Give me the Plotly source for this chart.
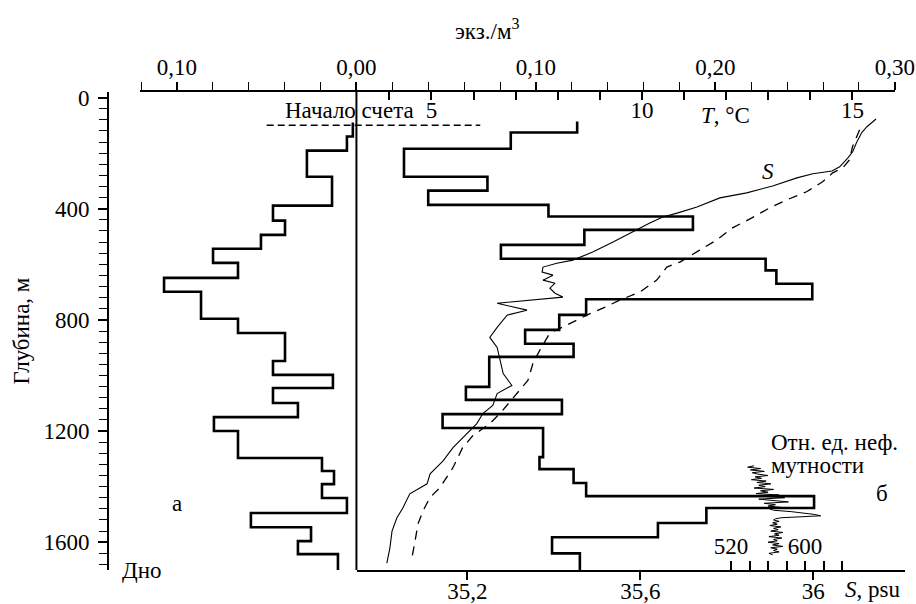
import plotly.graph_objects as go

# ---------------- DATA ----------------
# Panel a (left): abundance, экз./м3, plotted to the left of 0
a_edges = [90, 140, 191, 285, 389, 443, 494, 544, 595, 649, 699, 796, 847, 948, 998,
           1045, 1099, 1150, 1200, 1297, 1344, 1391, 1441, 1495, 1546, 1596, 1643, 1700]
a_vals = [0.002, 0.0053, 0.0276, 0.0136, 0.0465, 0.0398, 0.0532, 0.0799, 0.066, 0.1072,
          0.0866, 0.066, 0.0398, 0.0465, 0.0131, 0.0465, 0.0326, 0.0794, 0.066, 0.0192,
          0.0125, 0.0192, 0.0053, 0.0588, 0.0253, 0.0326, 0.0103]

# Panel б (right): abundance, экз./м3
b_edges = [86, 126, 184, 285, 335, 386, 428, 476, 530, 580, 622, 670, 726, 782, 836, 886,
           933, 1041, 1088, 1139, 1189, 1294, 1337, 1387, 1434, 1477, 1531, 1582, 1640, 1700]
b_vals = [0.123, 0.086, 0.0265, 0.073, 0.040, 0.107, 0.1875, 0.127, 0.0805, 0.228,
          0.234, 0.254, 0.128, 0.113, 0.094, 0.121, 0.074, 0.061, 0.1145, 0.048,
          0.104, 0.102, 0.121, 0.128, 0.255, 0.195, 0.168, 0.109, 0.1245]

# Salinity profile S, psu
s_depth = [77, 105, 126, 162, 195, 217, 249, 264, 274, 289, 318, 343, 361, 394, 415, 430,
           451, 484, 520, 556, 574, 585, 596, 610, 628, 639, 657, 668, 686, 704, 718, 722,
           740, 765, 783, 827, 863, 899, 946, 993, 1036, 1065, 1108, 1137, 1173, 1209, 1260,
           1307, 1354, 1390, 1426, 1477, 1513, 1560, 1621, 1675]
s_val = [36.145, 36.124, 36.112, 36.100, 36.091, 36.080, 36.061, 36.043, 35.999, 35.962,
         35.906, 35.846, 35.784, 35.731, 35.687, 35.652, 35.622, 35.583, 35.537, 35.490,
         35.461, 35.444, 35.407, 35.375, 35.373, 35.398, 35.375, 35.403, 35.391, 35.403,
         35.421, 35.391, 35.269, 35.338, 35.292, 35.269, 35.252, 35.269, 35.276, 35.283,
         35.303, 35.269, 35.259, 35.236, 35.222, 35.199, 35.167, 35.144, 35.114, 35.107,
         35.067, 35.051, 35.037, 35.026, 35.021, 35.014]

# Temperature profile T, °C
t_depth = [116, 177, 224, 253, 271, 303, 339, 368, 397, 433, 469, 513, 549, 592, 610, 657,
           700, 729, 758, 783, 819, 848, 910, 957, 1018, 1065, 1126, 1173, 1217, 1260, 1332,
           1404, 1440, 1487, 1534, 1596, 1661]
t_val = [15.17, 15.00, 14.93, 14.77, 14.53, 14.29, 13.91, 13.44, 13.03, 12.61, 12.15, 11.77,
         11.37, 10.90, 10.59, 10.35, 9.95, 9.47, 9.07, 8.69, 8.21, 7.81, 7.57, 7.41, 7.29,
         7.03, 6.69, 6.39, 5.98, 5.74, 5.51, 5.20, 4.96, 4.80, 4.68, 4.61, 4.53]

# Turbidity, rel. units of nephelometric turbidity
turb_depth = [1325, 1330, 1335, 1340, 1345, 1350, 1355, 1360, 1365, 1370, 1375, 1380, 1385,
              1390, 1395, 1400, 1405, 1410, 1415, 1420, 1425, 1430, 1435, 1440, 1445, 1450,
              1455, 1460, 1465, 1470, 1475, 1480, 1485, 1490, 1495, 1500, 1505, 1508, 1512,
              1516, 1520, 1525, 1530, 1535, 1540, 1545, 1550, 1555, 1560, 1565, 1570, 1575,
              1580, 1585, 1590, 1595, 1600, 1605, 1610, 1615, 1620, 1625, 1630, 1635, 1640, 1645]
turb_val = [545, 538, 552, 541, 556, 543, 549, 560, 546, 553, 542, 558, 548, 563, 550, 557,
            545, 566, 552, 560, 547, 572, 555, 578, 550, 565, 582, 556, 568, 560, 575, 562,
            566, 585, 600, 610, 617, 590, 574, 568, 566, 572, 565, 570, 562, 574, 566, 571,
            563, 576, 567, 572, 561, 575, 566, 570, 560, 572, 565, 576, 563, 570, 566, 572,
            561, 565]

start_depth = 100          # "Начало счета"
start_span = [-0.05, 0.069]

top_ticks = [-0.1, 0.0, 0.1, 0.2, 0.3]
top_ticktext = ["0,10", "0,00", "0,10", "0,20", "0,30"]
t_ticks = list(range(4, 17))
s_ticks = [35.2, 35.6, 36.0]
s_ticktext = ["35,2", "35,6", "36"]
turb_ticks = [520, 540, 560, 580, 600, 620, 640]
depth_ticks = [0, 400, 800, 1200, 1600]

# ---------------- GEOMETRY ----------------
L, R, T, B = 108, 905, 92.45, 569.75
W, H = 916, 604


def px(xp):
    return (xp - L) / (R - L)


def py(yp):
    return (B - yp) / (B - T)


def steps(edges, vals, sign=1):
    xs, ys = [], []
    for i, v in enumerate(vals):
        xs += [sign * v, sign * v]
        ys += [edges[i], edges[i + 1]]
    return xs, ys


FONT = "'Liberation Serif', 'Times New Roman', 'DejaVu Serif', serif"
FS = 23
BLACK = "black"

fig = go.Figure()

ax, ay = steps(a_edges, a_vals, -1)
bx, by = steps(b_edges, b_vals, 1)
fig.add_trace(go.Scatter(x=ax, y=ay, mode="lines", xaxis="x", yaxis="y",
                         line=dict(color=BLACK, width=2.6)))
fig.add_trace(go.Scatter(x=bx, y=by, mode="lines", xaxis="x", yaxis="y",
                         line=dict(color=BLACK, width=2.6)))
fig.add_trace(go.Scatter(x=[0, 0], y=[-20, 1700], mode="lines", xaxis="x", yaxis="y",
                         line=dict(color=BLACK, width=2)))
fig.add_trace(go.Scatter(x=start_span, y=[start_depth, start_depth], mode="lines",
                         xaxis="x", yaxis="y",
                         line=dict(color=BLACK, width=1.5, dash="7px,4px")))
fig.add_trace(go.Scatter(x=t_val, y=t_depth, mode="lines", xaxis="x2", yaxis="y",
                         line=dict(color=BLACK, width=1.3, dash="9px,7px")))
fig.add_trace(go.Scatter(x=s_val, y=s_depth, mode="lines", xaxis="x3", yaxis="y",
                         line=dict(color=BLACK, width=1.1)))
fig.add_trace(go.Scatter(x=turb_val, y=turb_depth, mode="lines", xaxis="x4", yaxis="y",
                         line=dict(color=BLACK, width=1.0)))

common = dict(showgrid=False, zeroline=False, tickcolor=BLACK, linecolor=BLACK,
              automargin=False,
              tickfont=dict(family=FONT, size=FS, color=BLACK))

fig.update_layout(
    width=W, height=H, autosize=False,
    margin=dict(l=L, r=W - R, t=T, b=H - B, pad=0, autoexpand=False),
    plot_bgcolor="rgba(0,0,0,0)", paper_bgcolor="white", showlegend=False,
    font=dict(family=FONT, size=FS, color=BLACK),
    yaxis=dict(range=[1700, -20], anchor="free", position=0, side="left",
               showline=True, linewidth=2, ticks="outside", ticklen=9, tickwidth=1.5,
               tickmode="array", tickvals=depth_ticks,
               ticktext=[str(v) for v in depth_ticks], ticklabelstandoff=4,
               minor=dict(tickvals=list(range(0, 1701, 40)), ticks="outside",
                          ticklen=8, tickwidth=1.3, tickcolor=BLACK),
               title=dict(text="Глубина, м", standoff=6,
                          font=dict(family=FONT, size=FS, color=BLACK)),
               **common),
    xaxis=dict(domain=[px(140), px(895)], range=[-0.1206, 0.3001], side="top", anchor="y",
               showline=True, linewidth=2, ticks="outside", ticklen=8, tickwidth=1.5,
               tickmode="array", tickvals=top_ticks, ticktext=top_ticktext,
               ticklabelstandoff=-2,
               minor=dict(tickvals=[round(-0.12 + 0.02 * i, 2) for i in range(22)],
                          ticks="outside", ticklen=8, tickwidth=1.3, tickcolor=BLACK),
               **common),
    xaxis2=dict(overlaying="x", side="top", anchor="y", range=[-1.9228, 16.01],
                showline=False, ticks="inside", ticklen=8, tickwidth=1.5,
                tickmode="array", tickvals=t_ticks,
                ticktext=[str(v) if v in (5, 10, 15) else "" for v in t_ticks],
                ticklabelposition="outside", ticklabelstandoff=-32, **common),
    xaxis3=dict(domain=[px(357), 1.0], side="bottom", anchor="y", range=[34.945, 36.212],
                showline=True, linewidth=2, ticks="outside", ticklen=8, tickwidth=1.5,
                tickmode="array", tickvals=s_ticks, ticktext=s_ticktext,
                ticklabelstandoff=-9, **common),
    xaxis4=dict(overlaying="x3", side="bottom", anchor="y", range=[115.68, 708.1],
                showline=False, ticks="inside", ticklen=9, tickwidth=1.5,
                tickmode="array", tickvals=turb_ticks,
                ticktext=["520", "", "", "", "600", "", ""],
                ticklabelposition="outside", ticklabelstandoff=-40, **common),
)

ann = [
    ("экз./м<sup>3</sup>", 487, 30),
    ("Начало счета", 349, 111),
    ("<i>T</i>, °C", 725, 116),
    ("<i>S</i>", 768, 172),
    ("а", 177, 503),
    ("б", 882, 493),
    ("Дно", 142, 570),
    ("<i>S</i>, psu", 872, 589),
]
for text, xp, yp in ann:
    fig.add_annotation(text=text, x=px(xp), y=py(yp), xref="paper", yref="paper",
                       xanchor="center", yanchor="middle", showarrow=False,
                       font=dict(family=FONT, size=FS, color=BLACK))
for text, xp, yp in [("Отн. ед. неф.", 769, 442), ("мутности", 769, 465)]:
    fig.add_annotation(text=text, x=px(xp), y=py(yp), xref="paper", yref="paper",
                       xanchor="left", yanchor="middle", showarrow=False,
                       font=dict(family=FONT, size=FS, color=BLACK))

fig.write_html("out.html")
